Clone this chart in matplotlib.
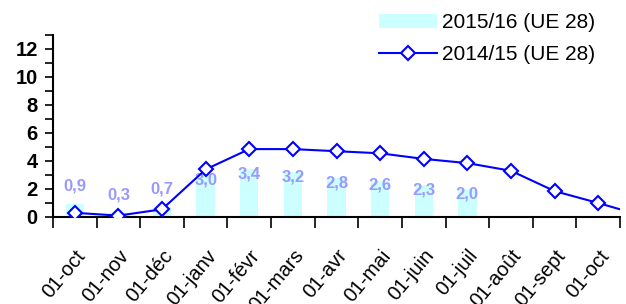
import matplotlib
matplotlib.use("Agg")
import matplotlib.pyplot as plt
import matplotlib.transforms as mtransforms
from matplotlib.patches import Patch
from matplotlib.lines import Line2D
import numpy as np

plt.rcParams["font.family"] = ["Liberation Sans", "DejaVu Sans"]

# ─── données ─────────────────────────────────────────────────────────── #
mois = ["01-oct", "01-nov", "01-déc", "01-janv", "01-févr", "01-mars", "01-avr",
        "01-mai", "01-juin", "01-juil", "01-août", "01-sept", "01-oct"]
stock_1516 = [0.9, 0.3, 0.7, 3.0, 3.4, 3.2, 2.8, 2.6, 2.3, 2.0]
# 14e point hors cadre (la courbe sort par la droite)
stock_1415 = [0.3, 0.1, 0.55, 3.4, 4.85, 4.85, 4.7, 4.55, 4.15, 3.85, 3.3, 1.85, 1.0, 0.1]

BAR_COLOR = "#CCFFFF"
LINE_COLOR = "#0000FF"
LABEL_COLOR = "#9999FF"

fig = plt.figure(figsize=(6.26, 3.04), dpi=100)
ax = fig.add_axes([53 / 626, 1 - 217 / 304, (620 - 53) / 626, (217 - 35) / 304])

x_bar = np.arange(len(stock_1516))
ax.bar(x_bar, stock_1516, width=0.42, color=BAR_COLOR, zorder=1)
for xi, v in zip(x_bar, stock_1516):
    y_lab = v - 0.35 if v >= 2 else v + 1.3
    ax.text(xi, y_lab, f"{v:.1f}".replace(".", ","), ha="center", va="center",
            fontsize=12, fontweight="bold", color=LABEL_COLOR, zorder=2)

x_line = np.arange(len(stock_1415))
ax.plot(x_line, stock_1415, color=LINE_COLOR, linewidth=1.5, marker="D",
        markersize=7, markerfacecolor="white", markeredgecolor=LINE_COLOR,
        markeredgewidth=1.5, zorder=3)

# ─── axes ────────────────────────────────────────────────────────────── #
ax.set_xlim(-0.5, len(mois) - 0.5)
ax.set_ylim(0, 13)
ax.set_yticks(np.arange(0, 13, 2))
ax.set_yticks(np.arange(0, 14, 1), minor=True)
ax.tick_params(axis="y", which="both", direction="out", length=6, width=1.2,
               labelsize=14.5, pad=5)
for lab in ax.get_yticklabels():
    lab.set_fontweight("bold")

ax.set_xticks(np.arange(-0.5, len(mois), 1))
ax.set_xticklabels([])
ax.set_xticks(np.arange(len(mois)), minor=True)
ax.set_xticklabels(mois, minor=True, rotation=50, ha="right", va="top",
                   rotation_mode="anchor", fontsize=14.5)
shift = mtransforms.ScaledTranslation(-10 / 100, 0, fig.dpi_scale_trans)
for lab in ax.get_xticklabels(minor=True):
    lab.set_transform(lab.get_transform() + shift)
ax.tick_params(axis="x", which="major", direction="out", length=8, width=1.2)
ax.tick_params(axis="x", which="minor", length=0, pad=21)

for side in ["top", "right"]:
    ax.spines[side].set_visible(False)
for side in ["left", "bottom"]:
    ax.spines[side].set_linewidth(1.5)

# ─── légende ─────────────────────────────────────────────────────────── #
handles = [
    Patch(facecolor=BAR_COLOR, edgecolor="none", label="2015/16 (UE 28)"),
    Line2D([], [], color=LINE_COLOR, linewidth=1.5, marker="D", markersize=7,
           markerfacecolor="white", markeredgecolor=LINE_COLOR,
           markeredgewidth=1.5, label="2014/15 (UE 28)"),
]
fig.legend(handles=handles, loc="upper left", bbox_to_anchor=(369 / 626, 0.99),
           frameon=False, fontsize=15, borderpad=0, handlelength=2.75,
           handleheight=0.65, handletextpad=0.25, labelspacing=0.6)

fig.savefig("out.png", dpi=100)
